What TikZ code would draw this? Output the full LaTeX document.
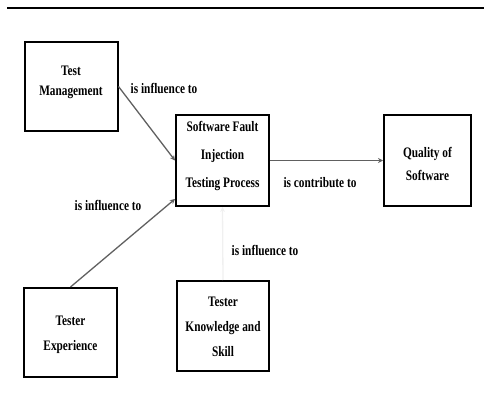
\documentclass[tikz,border=0pt]{standalone}
\usepackage{fontspec}
\setmainfont[FakeStretch=0.78]{Liberation Serif}
\usetikzlibrary{arrows.meta}
\begin{document}
\begin{tikzpicture}[x=1pt,y=-1pt,
  box/.style={draw=black,line width=2pt,fill=white,inner sep=0pt},
  txt/.style={align=center,inner sep=0pt},
  conn/.style={draw=gray!75!black,line width=1.3pt,-{Stealth[length=5pt,width=5pt]}},
  lbl/.style={font=\fontsize{14.5}{16}\selectfont\bfseries,inner sep=0pt}]
\useasboundingbox (0,0) rectangle (484,419);
\coordinate (l1) at (7,8);
\coordinate (l2) at (484,8);
\draw[line width=1.6pt] (l1) -- (l2);
\node[box,minimum width=93pt,minimum height=89pt] (tm) at (71,86.5) {};
\node[txt,font=\fontsize{14.5}{20}\selectfont\bfseries] (tmt) at (71,82) {Test\\Management};
\node[box,minimum width=93pt,minimum height=91pt] (sf) at (222.5,160.5) {};
\node[txt,font=\fontsize{14.5}{28}\selectfont\bfseries] (sft) at (222.5,155.5) {Software Fault\\Injection\\Testing Process};
\node[box,minimum width=87pt,minimum height=91pt] (qs) at (427.5,160.5) {};
\node[txt,font=\fontsize{14.5}{23}\selectfont\bfseries] (qst) at (427.5,163.5) {Quality of\\Software};
\node[box,minimum width=93pt,minimum height=89pt] (te) at (70.5,332.5) {};
\node[txt,font=\fontsize{14.5}{25}\selectfont\bfseries] (tet) at (70.5,334.5) {Tester\\Experience};
\node[box,minimum width=92pt,minimum height=90pt] (tk) at (223,326) {};
\node[txt,font=\fontsize{14.5}{25}\selectfont\bfseries] (tkt) at (223,327) {Tester\\Knowledge and\\Skill};
\draw[conn] (tm.east) -- (sf.west);
\draw[conn] (te.north) -- ([yshift=8pt]sf.south west);
\draw[conn,draw=gray!12] (tk.north) -- (sf.south);
\draw[conn] (sf.east) -- (qs.west);
\node[lbl] (l1t) at (164,88) {is influence to};
\node[lbl] (l2t) at (108,205) {is influence to};
\node[lbl] (l3t) at (320,183) {is contribute to};
\node[lbl] (l4t) at (265,250) {is influence to};
\end{tikzpicture}
\end{document}
